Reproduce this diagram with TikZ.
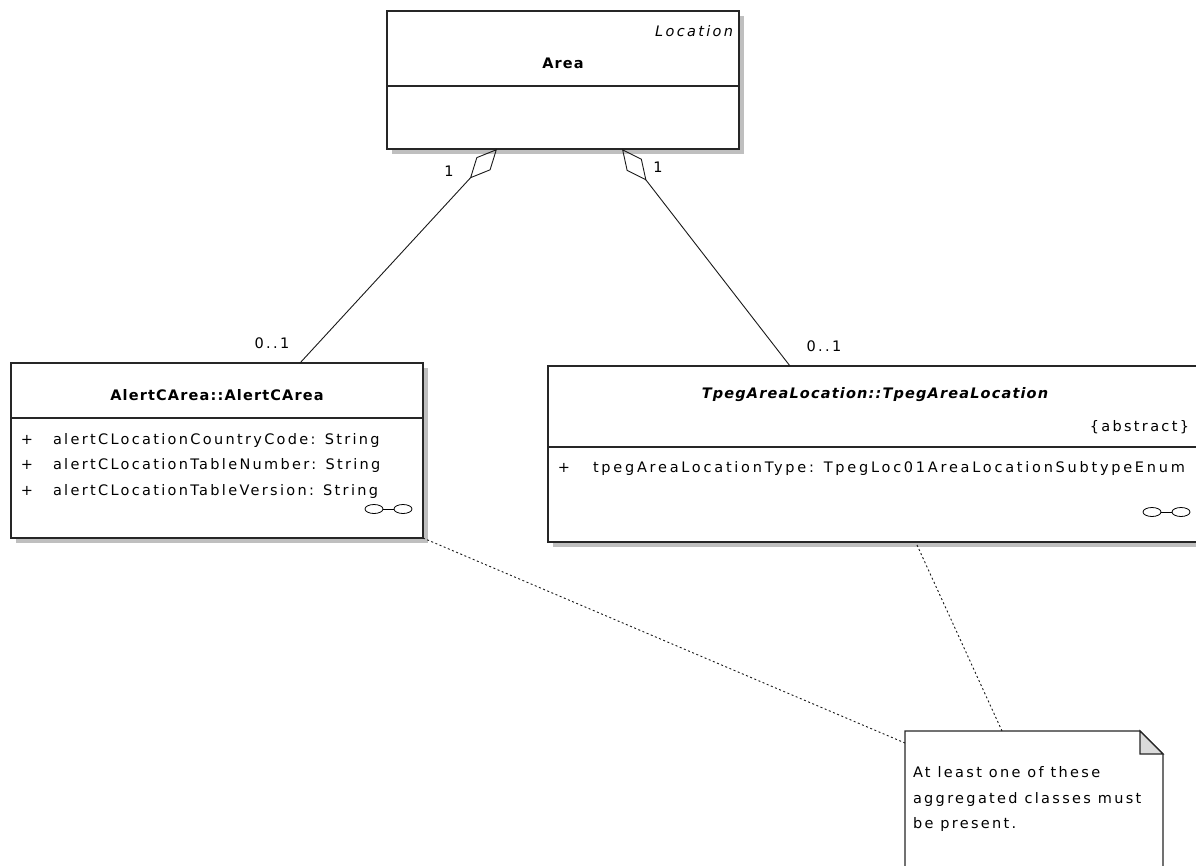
\documentclass[tikz,border=0pt]{standalone}
\usepackage{fontspec}
\newfontfamily\umlfont{DejaVu Sans}[LetterSpace=16]
\usetikzlibrary{arrows.meta,calc,shadows}

\begin{document}
\begin{tikzpicture}[x=1pt,y=-1pt,
  every node/.style={inner sep=0pt, outer sep=0pt},
  font=\umlfont\fontsize{14.5}{17}\selectfont,
  classbox/.style={draw=black!85, line width=1.5pt, fill=white, anchor=north west,
    drop shadow={shadow xshift=4.5pt, shadow yshift=-4.5pt, fill=black!25, opacity=1}},
  divider/.style={draw=black!85, line width=1.5pt},
  txt/.style={text height=10.5pt, text depth=0pt},
  title/.style={txt, font=\umlfont\fontsize{14.5}{17}\selectfont\addfontfeature{LetterSpace=8}\bfseries},
  wide/.style={txt, font=\umlfont\fontsize{14.5}{17}\selectfont\addfontfeature{LetterSpace=19}},
  connector/.style={draw=black!90, line width=0.9pt},
  agg/.style={connector, {Diamond[open, length=40pt, width=19pt]}-},
  notelink/.style={draw=black!90, line width=0.9pt, dash pattern=on 2pt off 2.5pt},
  linkicon/.pic={
    \draw[line width=0.8pt] (-14.5,0) ellipse [x radius=9pt, y radius=4.5pt];
    \draw[line width=0.8pt] (14.5,0) ellipse [x radius=9pt, y radius=4.5pt];
    \draw[line width=0.8pt] (-5.5,0) -- (5.5,0);
  }]
\useasboundingbox (0,0) rectangle (1196,865);
\clip (0,0) rectangle (1196,865);

% class Area
\node[classbox, minimum width=352pt, minimum height=138pt] (area) at (387,11) {};
\draw[divider] ($(area.north west)+(0,75)$) -- ($(area.north east)+(0,75)$);
\node[txt, anchor=east] (areaStereo) at (733,31) {\itshape Location};
\node[title] (areaName) at (563,63) {Area};

% class AlertCArea
\node[classbox, minimum width=412pt, minimum height=175pt] (alert) at (11,363) {};
\draw[divider] ($(alert.north west)+(0,55)$) -- ($(alert.north east)+(0,55)$);
\node[title] (alertName) at (217,395) {AlertCArea::AlertCArea};
\node[txt] (alertP1) at (27,439) {+};
\node[txt] (alertP2) at (27,464) {+};
\node[txt] (alertP3) at (27,490) {+};
\node[txt, anchor=west] (alertA1) at (53,439) {alertCLocationCountryCode: String};
\node[txt, anchor=west] (alertA2) at (53,464) {alertCLocationTableNumber: String};
\node[txt, anchor=west] (alertA3) at (53,490) {alertCLocationTableVersion: String};
\pic at (388.5,509) {linkicon};

% class TpegAreaLocation
\node[classbox, minimum width=652pt, minimum height=176pt] (tpeg) at (548,366) {};
\draw[divider] ($(tpeg.north west)+(0,81)$) -- ($(tpeg.north east)+(0,81)$);
\node[title] (tpegName) at (875,393) {\itshape TpegAreaLocation::TpegAreaLocation};
\node[txt, anchor=east] (tpegAbstract) at (1189,426) {\{abstract\}};
\node[txt] (tpegP1) at (564,467) {+};
\node[wide, anchor=west] (tpegA1) at (593,467) {tpegAreaLocationType: TpegLoc01AreaLocationSubtypeEnum};
\pic at (1166.5,512) {linkicon};

% note
\node[anchor=north west, minimum width=258pt, minimum height=150pt] (note) at (905,731) {};
\draw[line width=1.2pt, draw=black!85, fill=white]
  (note.north west) -- ($(note.north east)+(-23,0)$) -- ($(note.north east)+(0,23)$)
  -- (note.south east) -- (note.south west) -- cycle;
\draw[line width=1.2pt, draw=black!85, fill=black!14]
  ($(note.north east)+(-23,0)$) -- ($(note.north east)+(-23,23)$) -- ($(note.north east)+(0,23)$) -- cycle;
\node[txt, anchor=west] (noteL1) at (913,772) {At least one of these};
\node[txt, anchor=west] (noteL2) at (913,798) {aggregated classes must};
\node[txt, anchor=west] (noteL3) at (913,823) {be present.};

% aggregations
\draw[agg] ($(area.south west)+(110,0)$) -- ($(alert.north west)+(289,0)$);
\draw[agg] ($(area.south west)+(235,0)$) -- ($(tpeg.north west)+(242,0)$);
\node[txt] (multAreaL) at (449,171) {1};
\node[txt] (multAreaR) at (658,167) {1};
\node[txt] (multAlert) at (272,343) {0..1};
\node[txt] (multTpeg) at (824,346) {0..1};

% note links
\draw[notelink] (alert.south east) -- ($(note.north west)+(0,12)$);
\draw[notelink] ($(tpeg.south west)+(369,3)$) -- ($(note.north west)+(97,0)$);
\end{tikzpicture}
\end{document}
